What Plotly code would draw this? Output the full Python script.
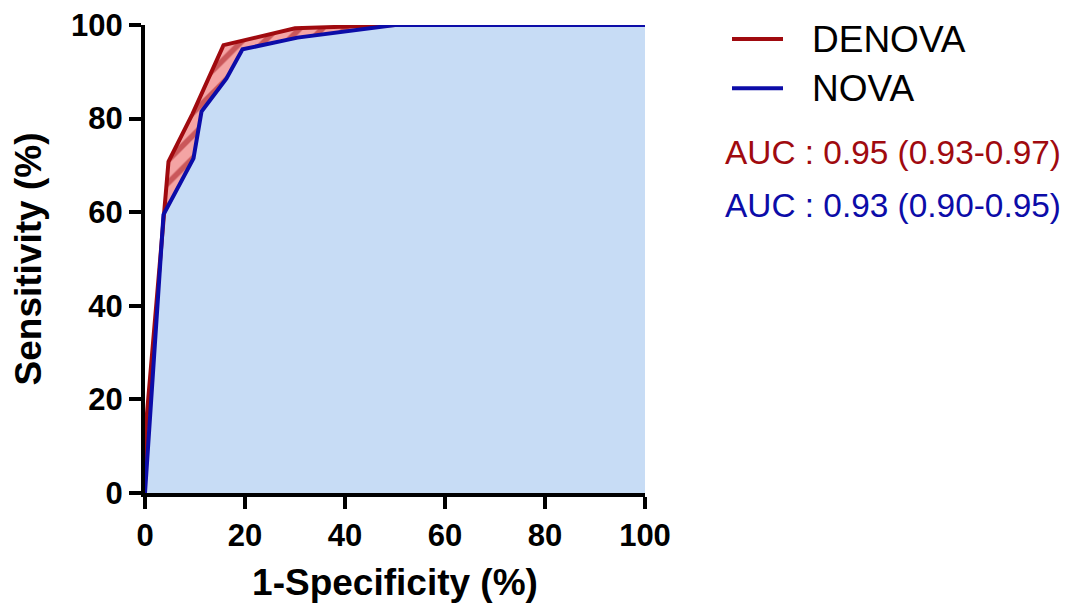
import plotly.graph_objects as go

# ROC data (1-Specificity %, Sensitivity %)
denova_x = [0, 0, 4.7, 9.5, 15.7, 30, 50, 100]
denova_y = [0, 12, 70.8, 81, 95.7, 99.3, 100, 100]
nova_x = [0, 3.7, 9.7, 11.3, 16.3, 19.5, 30.5, 50, 100]
nova_y = [0, 59.5, 71.5, 81.5, 88.6, 94.8, 97.3, 100, 100]

series_names = ["DENOVA", "NOVA"]
auc_texts = ["AUC : 0.95 (0.93-0.97)", "AUC : 0.93 (0.90-0.95)"]
x_ticks = [0, 20, 40, 60, 80, 100]
y_ticks = [0, 20, 40, 60, 80, 100]

RED = "#a00a0f"
BLUE = "#0c0ca8"
FONT = "Liberation Sans"

fig = go.Figure()

# light blue area under NOVA
fig.add_trace(go.Scatter(x=nova_x, y=nova_y, mode="lines", line=dict(width=0),
                         fill="tozeroy", fillcolor="#c7dcf5", showlegend=False,
                         hoverinfo="skip"))
# hatched band between DENOVA and NOVA
fig.add_trace(go.Scatter(x=denova_x, y=denova_y, mode="lines", line=dict(width=0),
                         fill="tonexty", fillcolor="#f4a4a4",
                         fillpattern=dict(shape="/", fgcolor=RED, bgcolor="#f4a4a4",
                                          size=16, solidity=0.35),
                         showlegend=False, hoverinfo="skip"))
# lines
fig.add_trace(go.Scatter(x=denova_x, y=denova_y, mode="lines", name=series_names[0],
                         line=dict(color=RED, width=4), showlegend=False))
fig.add_trace(go.Scatter(x=nova_x, y=nova_y, mode="lines", name=series_names[1],
                         line=dict(color=BLUE, width=4), showlegend=False))

# legend (drawn manually for exact sample length / spacing)
legend_rows = [(series_names[0], RED, 0.970), (series_names[1], BLUE, 0.865)]
for name, col, yy in legend_rows:
    fig.add_shape(type="line", xref="paper", yref="paper", x0=1.174, x1=1.276,
                  y0=yy, y1=yy, line=dict(color=col, width=4))
    fig.add_annotation(x=1.33, y=yy, xref="paper", yref="paper", text=name,
                       showarrow=False, xanchor="left", yanchor="middle",
                       font=dict(family=FONT, size=37, color="black"))

fig.add_annotation(x=1.155, y=0.7265, xref="paper", yref="paper", text=auc_texts[0],
                   showarrow=False, xanchor="left", yanchor="middle",
                   font=dict(family=FONT, size=33.4, color=RED))
fig.add_annotation(x=1.155, y=0.615, xref="paper", yref="paper", text=auc_texts[1],
                   showarrow=False, xanchor="left", yanchor="middle",
                   font=dict(family=FONT, size=33.4, color=BLUE))

axis_common = dict(showgrid=False, zeroline=False, showline=True, linewidth=4,
                   linecolor="black", ticks="outside", ticklen=12, tickwidth=4,
                   tickcolor="black", range=[0, 100], automargin=False,
                   ticklabeloverflow="allow",
                   tickfont=dict(family=FONT, size=31, color="black", weight="bold"))

fig.update_layout(
    width=1063, height=603,
    margin=dict(l=137, r=426, t=17, b=118, autoexpand=False),
    paper_bgcolor="white", plot_bgcolor="white",
    xaxis=dict(**axis_common, tickvals=x_ticks,
               title=dict(text="<b>1-Specificity (%)</b>", standoff=18,
                          font=dict(family=FONT, size=37, color="black"))),
    yaxis=dict(**axis_common, tickvals=y_ticks,
               title=dict(text="<b>Sensitivity (%)</b>", standoff=26,
                          font=dict(family=FONT, size=37, color="black"))),
    showlegend=False,
)

fig.write_html("out.html")
